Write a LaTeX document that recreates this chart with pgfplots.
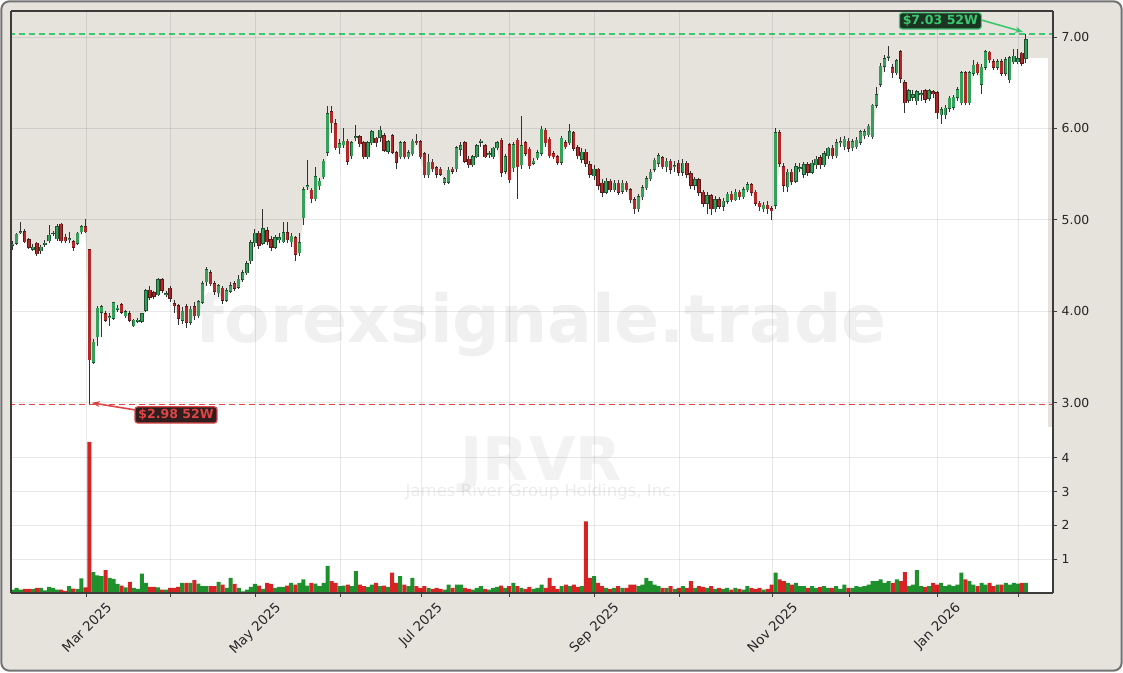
\documentclass[border=0pt]{standalone}
\usepackage{fontspec}
\setmainfont{DejaVu Sans}
\usepackage{graphicx}
\usepackage{pgfplots}
\pgfplotsset{compat=1.18}
\usepackage{pgfplotstable}
\usetikzlibrary{arrows.meta}

\definecolor{beige}{RGB}{230,227,221}
\definecolor{framegray}{RGB}{115,115,115}
\definecolor{spine}{RGB}{60,60,60}
\definecolor{wick}{RGB}{50,50,50}
\definecolor{upbody}{RGB}{52,160,90}
\definecolor{upedge}{RGB}{30,80,50}
\definecolor{dnbody}{RGB}{178,40,40}
\definecolor{dnedge}{RGB}{90,25,25}
\definecolor{volup}{RGB}{30,145,45}
\definecolor{voldn}{RGB}{215,35,35}
\definecolor{hiline}{RGB}{60,200,110}
\definecolor{loline}{RGB}{220,70,70}
\definecolor{hibox}{RGB}{28,52,36}
\definecolor{lobox}{RGB}{48,30,30}

% i = trading day index (0 = 3 Feb 2025), volume in millions
\pgfplotstableread{
i o h l c v
0 4.72 4.77 4.67 4.73 0.10
1 4.74 4.86 4.72 4.84 0.15
2 4.86 4.98 4.84 4.87 0.10
3 4.87 4.90 4.74 4.76 0.12
4 4.78 4.80 4.68 4.70 0.12
5 4.68 4.73 4.66 4.70 0.12
6 4.74 4.76 4.60 4.63 0.15
7 4.66 4.72 4.62 4.70 0.15
8 4.73 4.78 4.70 4.74 0.08
9 4.77 4.94 4.75 4.83 0.18
10 4.85 4.88 4.82 4.85 0.15
11 4.79 4.95 4.77 4.92 0.10
12 4.95 4.96 4.75 4.77 0.10
13 4.81 4.84 4.74 4.77 0.06
14 4.78 4.87 4.75 4.79 0.20
15 4.76 4.78 4.66 4.70 0.13
16 4.74 4.87 4.72 4.85 0.12
17 4.87 4.94 4.84 4.92 0.43
18 4.92 5.01 4.85 4.87 0.17
19 4.67 4.67 2.98 3.47 4.47
20 3.44 3.70 3.42 3.66 0.62
21 3.72 4.06 3.62 4.03 0.52
22 3.99 4.07 3.72 4.05 0.50
23 3.97 4.00 3.88 3.90 0.68
24 3.93 3.98 3.84 3.94 0.45
25 3.92 4.10 3.90 4.09 0.42
26 4.02 4.07 3.99 4.03 0.27
27 4.07 4.09 3.97 3.99 0.22
28 3.95 4.01 3.93 3.99 0.17
29 3.97 4.00 3.88 3.90 0.33
30 3.84 3.91 3.83 3.90 0.15
31 3.89 3.92 3.87 3.90 0.12
32 3.89 3.98 3.87 3.97 0.57
33 4.01 4.24 3.99 4.22 0.30
34 4.23 4.27 4.12 4.15 0.18
35 4.20 4.22 4.13 4.16 0.18
36 4.18 4.36 4.16 4.34 0.17
37 4.34 4.36 4.20 4.23 0.10
38 4.18 4.22 4.15 4.19 0.10
39 4.25 4.27 4.10 4.14 0.15
40 4.08 4.12 3.98 4.06 0.15
41 4.06 4.08 3.85 3.92 0.18
42 3.90 4.05 3.86 4.00 0.30
43 4.05 4.08 3.82 3.88 0.30
44 3.88 4.06 3.85 4.02 0.30
45 4.05 4.10 3.90 3.95 0.38
46 3.95 4.12 3.92 4.10 0.28
47 4.10 4.33 4.08 4.30 0.20
48 4.32 4.48 4.28 4.45 0.20
49 4.42 4.45 4.27 4.30 0.20
50 4.30 4.33 4.18 4.22 0.20
51 4.20 4.30 4.15 4.28 0.33
52 4.25 4.27 4.08 4.12 0.25
53 4.12 4.25 4.10 4.22 0.15
54 4.22 4.32 4.20 4.28 0.45
55 4.30 4.33 4.22 4.25 0.27
56 4.26 4.40 4.24 4.35 0.15
57 4.35 4.45 4.32 4.42 0.05
58 4.42 4.55 4.40 4.52 0.10
59 4.55 4.78 4.52 4.75 0.18
60 4.75 4.90 4.70 4.85 0.27
61 4.85 4.88 4.68 4.72 0.22
62 4.74 5.12 4.72 4.90 0.12
63 4.88 4.92 4.72 4.76 0.30
64 4.78 4.82 4.66 4.70 0.27
65 4.70 4.83 4.68 4.80 0.15
66 4.78 4.85 4.74 4.80 0.18
67 4.76 4.98 4.74 4.86 0.18
68 4.86 4.98 4.74 4.78 0.22
69 4.76 4.86 4.70 4.82 0.30
70 4.80 4.82 4.55 4.62 0.25
71 4.64 4.85 4.60 4.75 0.30
72 5.02 5.36 4.94 5.33 0.40
73 5.36 5.65 5.32 5.37 0.22
74 5.32 5.35 5.18 5.23 0.30
75 5.23 5.58 5.20 5.47 0.28
76 5.37 5.46 5.33 5.42 0.20
77 5.47 5.66 5.45 5.64 0.30
78 5.74 6.24 5.70 6.16 0.80
79 6.18 6.24 5.95 6.06 0.35
80 6.05 6.10 5.76 5.79 0.30
81 5.79 5.88 5.72 5.83 0.20
82 5.82 6.00 5.78 5.86 0.22
83 5.86 5.88 5.60 5.64 0.25
84 5.70 5.86 5.66 5.84 0.20
85 5.90 6.04 5.86 5.91 0.65
86 5.91 5.93 5.80 5.83 0.25
87 5.84 5.86 5.66 5.69 0.20
88 5.69 5.86 5.66 5.84 0.18
89 5.84 5.98 5.82 5.96 0.25
90 5.89 5.91 5.80 5.84 0.30
91 5.90 6.02 5.85 5.98 0.20
92 5.92 5.95 5.74 5.76 0.22
93 5.75 5.87 5.72 5.85 0.18
94 5.92 5.94 5.72 5.74 0.60
95 5.73 5.75 5.55 5.63 0.30
96 5.69 5.86 5.66 5.84 0.50
97 5.84 5.86 5.66 5.69 0.25
98 5.69 5.76 5.66 5.73 0.20
99 5.72 5.88 5.70 5.86 0.45
100 5.86 5.94 5.82 5.84 0.20
101 5.85 5.87 5.66 5.69 0.15
102 5.72 5.74 5.46 5.49 0.20
103 5.49 5.72 5.46 5.63 0.15
104 5.63 5.66 5.52 5.56 0.12
105 5.57 5.59 5.46 5.50 0.15
106 5.55 5.58 5.48 5.50 0.12
107 5.41 5.47 5.38 5.45 0.10
108 5.41 5.58 5.39 5.54 0.25
109 5.55 5.58 5.50 5.53 0.15
110 5.56 5.81 5.52 5.79 0.25
111 5.77 5.85 5.70 5.81 0.25
112 5.84 5.86 5.62 5.64 0.15
113 5.66 5.70 5.57 5.60 0.12
114 5.60 5.71 5.58 5.69 0.10
115 5.69 5.83 5.67 5.81 0.15
116 5.85 5.88 5.80 5.86 0.20
117 5.81 5.83 5.67 5.69 0.12
118 5.71 5.75 5.68 5.72 0.10
119 5.69 5.80 5.66 5.78 0.15
120 5.79 5.86 5.76 5.84 0.18
121 5.87 5.89 5.47 5.52 0.22
122 5.53 5.72 5.50 5.69 0.15
123 5.82 5.84 5.40 5.44 0.20
124 5.57 5.85 5.52 5.82 0.30
125 5.87 5.89 5.23 5.58 0.20
126 5.60 6.13 5.56 5.81 0.15
127 5.84 5.86 5.70 5.73 0.12
128 5.77 5.80 5.56 5.59 0.18
129 5.62 5.67 5.60 5.64 0.12
130 5.68 5.76 5.65 5.73 0.15
131 5.73 6.02 5.70 5.99 0.25
132 5.98 6.00 5.80 5.84 0.15
133 5.88 5.90 5.67 5.70 0.45
134 5.72 5.75 5.66 5.69 0.20
135 5.69 5.71 5.60 5.63 0.12
136 5.63 5.92 5.60 5.89 0.20
137 5.84 5.87 5.77 5.80 0.25
138 5.84 6.05 5.82 5.96 0.20
139 5.95 5.97 5.75 5.78 0.25
140 5.79 5.82 5.66 5.70 0.18
141 5.66 5.78 5.62 5.74 0.20
142 5.74 5.77 5.58 5.62 2.12
143 5.60 5.64 5.46 5.50 0.45
144 5.48 5.60 5.44 5.55 0.50
145 5.55 5.57 5.32 5.38 0.30
146 5.40 5.45 5.25 5.30 0.20
147 5.30 5.46 5.28 5.42 0.15
148 5.42 5.45 5.30 5.33 0.12
149 5.33 5.44 5.30 5.40 0.15
150 5.40 5.43 5.27 5.30 0.20
151 5.31 5.43 5.28 5.40 0.15
152 5.40 5.42 5.30 5.33 0.15
153 5.33 5.35 5.18 5.22 0.25
154 5.22 5.25 5.06 5.12 0.25
155 5.12 5.28 5.08 5.25 0.20
156 5.25 5.38 5.22 5.35 0.25
157 5.35 5.48 5.32 5.45 0.45
158 5.45 5.55 5.42 5.52 0.35
159 5.55 5.68 5.52 5.65 0.25
160 5.62 5.73 5.58 5.70 0.20
161 5.68 5.70 5.55 5.58 0.15
162 5.58 5.67 5.52 5.64 0.15
163 5.64 5.66 5.50 5.55 0.20
164 5.58 5.64 5.52 5.59 0.12
165 5.62 5.65 5.48 5.52 0.15
166 5.52 5.66 5.48 5.62 0.20
167 5.62 5.64 5.46 5.50 0.15
168 5.50 5.53 5.34 5.38 0.35
169 5.38 5.47 5.32 5.44 0.15
170 5.44 5.46 5.26 5.30 0.20
171 5.30 5.33 5.14 5.18 0.18
172 5.18 5.30 5.06 5.26 0.15
173 5.26 5.28 5.05 5.12 0.20
174 5.12 5.26 5.08 5.22 0.12
175 5.22 5.25 5.12 5.15 0.15
176 5.15 5.24 5.10 5.20 0.12
177 5.20 5.30 5.17 5.28 0.15
178 5.28 5.31 5.19 5.22 0.10
179 5.22 5.34 5.20 5.30 0.15
180 5.30 5.33 5.22 5.25 0.12
181 5.25 5.36 5.23 5.33 0.10
182 5.33 5.41 5.30 5.38 0.20
183 5.38 5.40 5.26 5.30 0.15
184 5.30 5.32 5.15 5.18 0.12
185 5.18 5.21 5.10 5.14 0.15
186 5.12 5.19 5.08 5.16 0.10
187 5.16 5.20 5.06 5.12 0.12
188 5.12 5.15 5.00 5.10 0.25
189 5.16 6.00 5.12 5.95 0.60
190 5.95 5.98 5.58 5.62 0.40
191 5.58 5.62 5.30 5.38 0.35
192 5.36 5.55 5.30 5.52 0.30
193 5.52 5.56 5.38 5.42 0.25
194 5.42 5.62 5.40 5.58 0.30
195 5.56 5.62 5.52 5.57 0.20
196 5.50 5.63 5.46 5.60 0.20
197 5.60 5.63 5.48 5.52 0.15
198 5.52 5.65 5.50 5.62 0.20
199 5.60 5.70 5.56 5.66 0.15
200 5.68 5.71 5.56 5.60 0.18
201 5.60 5.75 5.58 5.72 0.20
202 5.70 5.80 5.66 5.78 0.15
203 5.78 5.82 5.66 5.70 0.15
204 5.70 5.88 5.68 5.84 0.20
205 5.84 5.90 5.80 5.85 0.12
206 5.80 5.92 5.76 5.88 0.25
207 5.86 5.89 5.74 5.78 0.15
208 5.79 5.88 5.75 5.85 0.15
209 5.80 5.90 5.77 5.87 0.20
210 5.85 5.98 5.82 5.96 0.18
211 5.92 5.99 5.88 5.96 0.20
212 5.93 6.05 5.90 6.02 0.25
213 5.91 6.27 5.88 6.25 0.35
214 6.25 6.45 6.22 6.37 0.35
215 6.48 6.72 6.45 6.68 0.40
216 6.68 6.80 6.62 6.76 0.30
217 6.78 6.90 6.74 6.79 0.35
218 6.66 6.70 6.55 6.61 0.30
219 6.61 6.76 6.58 6.74 0.40
220 6.84 6.86 6.50 6.55 0.35
221 6.50 6.53 6.17 6.28 0.62
222 6.31 6.43 6.28 6.41 0.20
223 6.34 6.42 6.30 6.37 0.25
224 6.30 6.42 6.26 6.40 0.68
225 6.37 6.42 6.30 6.38 0.20
226 6.41 6.43 6.28 6.32 0.18
227 6.33 6.43 6.30 6.41 0.20
228 6.40 6.42 6.33 6.38 0.30
229 6.39 6.41 6.10 6.17 0.25
230 6.15 6.23 6.05 6.20 0.30
231 6.15 6.25 6.10 6.22 0.20
232 6.22 6.35 6.18 6.33 0.25
233 6.23 6.37 6.20 6.34 0.20
234 6.34 6.45 6.30 6.42 0.25
235 6.28 6.63 6.25 6.61 0.60
236 6.61 6.63 6.25 6.28 0.40
237 6.28 6.63 6.26 6.61 0.35
238 6.60 6.75 6.57 6.69 0.25
239 6.70 6.73 6.58 6.61 0.20
240 6.48 6.70 6.38 6.67 0.30
241 6.67 6.86 6.64 6.84 0.25
242 6.83 6.85 6.72 6.75 0.30
243 6.73 6.76 6.64 6.67 0.20
244 6.67 6.76 6.64 6.73 0.25
245 6.73 6.76 6.57 6.60 0.25
246 6.60 6.78 6.57 6.75 0.30
247 6.53 6.79 6.50 6.77 0.25
248 6.73 6.87 6.70 6.79 0.30
249 6.73 6.87 6.70 6.76 0.28
250 6.82 6.84 6.68 6.71 0.30
251 6.77 7.03 6.72 6.97 0.30
}\ohlc

\newcommand{\tickfont}{\fontsize{9.3}{11}\selectfont}
% candle body as a thick error bar; rows of the other colour are sent far below the axis
\pgfplotsset{
  body/.style n args={2}{draw=none, mark=none, forget plot,
    error bars/.cd, y dir=plus, y explicit, error mark=none,
    error bar style={draw=#1, solid, line width=#2}},
}

\begin{document}
\begin{tikzpicture}
\useasboundingbox (0,0) rectangle (842.25pt,504pt);
\fill[beige, draw=framegray, line width=1.5pt, rounded corners=6pt] (1pt,1pt) rectangle (841.25pt,503pt);

% ---------- price panel ----------
\begin{axis}[
  at={(8.25pt,495.75pt)}, anchor=north west,
  scale only axis, width=781.5pt, height=312pt,
  xmin=-0.42, xmax=257.7, ymin=2.732, ymax=7.284,
  axis background/.style={fill=beige},
  axis on top,
  separate axis lines,
  x axis line style={draw=none},
  y axis line style={draw=spine, line width=0.8pt},
  xtick={18.3,39.15,60.15,81.15,101.15,123.15,144.15,165.15,188.15,207.15,229.15,249.15},
  xticklabels={}, xtick style={draw=none},
  ytick={3,4,5,6,7}, yticklabels={3.00,4.00,5.00,6.00,7.00},
  ytick pos=right, yticklabel pos=right,
  tick align=outside, major tick length=3pt,
  ytick style={draw=spine, line width=0.6pt},
  grid=major, grid style={black, opacity=0.09, line width=0.6pt},
  tick label style={font=\tickfont, text=black!85},
]
% white area under the price
\addplot[draw=none, fill=white, forget plot]
  table[x=i, y expr={min(\thisrow{o},\thisrow{c})}] {\ohlc} \closedcycle;
\addplot[draw=none, fill=white, forget plot]
  coordinates {(-0.6,4.72) (0,4.72)} \closedcycle;
\addplot[draw=none, fill=white, forget plot]
  coordinates {(251,6.77) (256.5,6.77)} \closedcycle;

\node[font=\bfseries\fontsize{49.7}{50}\selectfont, text=black, text opacity=0.06]
  at (axis cs:130.9,3.85) {forexsignale.trade};

% 52 week lines
\addplot[hiline, dash pattern=on 5pt off 2.5pt, line width=1.2pt, forget plot]
  coordinates {(-1,7.03) (260,7.03)};
\addplot[loline, dash pattern=on 5pt off 2.5pt, line width=1.2pt, forget plot]
  coordinates {(-1,2.98) (260,2.98)};

% wicks
\addplot[body={wick}{0.75pt}]
  table[x=i, y=l, y error expr=\thisrow{h}-\thisrow{l}] {\ohlc};
% up bodies (close >= open)
\addplot[body={upedge}{2.5pt}]
  table[x=i, y expr={\thisrow{c}<\thisrow{o} ? -10 : \thisrow{o}-0.006},
        y error expr=abs(\thisrow{c}-\thisrow{o})+0.012] {\ohlc};
\addplot[body={upbody}{1.9pt}]
  table[x=i, y expr={\thisrow{c}<\thisrow{o} ? -10 : \thisrow{o}},
        y error expr=abs(\thisrow{c}-\thisrow{o})] {\ohlc};
% down bodies (close < open)
\addplot[body={dnedge}{2.5pt}]
  table[x=i, y expr={\thisrow{c}<\thisrow{o} ? \thisrow{c}-0.006 : -10},
        y error expr=abs(\thisrow{o}-\thisrow{c})+0.012] {\ohlc};
\addplot[body={dnbody}{1.9pt}]
  table[x=i, y expr={\thisrow{c}<\thisrow{o} ? \thisrow{c} : -10},
        y error expr=abs(\thisrow{o}-\thisrow{c})] {\ohlc};

% labels for 52 week high / low
\draw[hiline, line width=1.2pt, -{Stealth[length=6pt,width=4.5pt]}]
  (axis cs:239.9,7.186) -- (axis cs:250.3,7.055);
\node[fill=hibox, draw=hiline, line width=0.9pt, rounded corners=2pt,
  inner xsep=2.5pt, inner ysep=1.8pt, text=hiline,
  font=\bfseries\fontsize{9.4}{11}\selectfont]
  at (axis cs:229.8,7.175) {\$7.03 52W};
\draw[loline, line width=1.2pt, -{Stealth[length=6pt,width=4.5pt]}]
  (axis cs:30.3,2.919) -- (axis cs:19.6,2.996);
\node[fill=lobox, draw=loline, line width=0.9pt, rounded corners=2pt,
  inner xsep=2.5pt, inner ysep=1.8pt, text=loline,
  font=\bfseries\fontsize{9.4}{11}\selectfont]
  at (axis cs:40.45,2.864) {\$2.98 52W};

\draw[spine, line width=0.8pt] (rel axis cs:0,1) -- (rel axis cs:1,1);
\end{axis}

% ---------- volume panel ----------
\begin{axis}[
  at={(8.25pt,183.75pt)}, anchor=north west,
  scale only axis, width=781.5pt, height=124.5pt,
  xmin=-0.42, xmax=257.7, ymin=0, ymax=4.91,
  axis background/.style={fill=white},
  axis on top,
  separate axis lines,
  x axis line style={draw=none},
  y axis line style={draw=spine, line width=0.8pt},
  xtick={18.3,39.15,60.15,81.15,101.15,123.15,144.15,165.15,188.15,207.15,229.15,249.15},
  xticklabels={\rotatebox{45}{Mar 2025},{},\rotatebox{45}{May 2025},{},\rotatebox{45}{Jul 2025},{},\rotatebox{45}{Sep 2025},{},\rotatebox{45}{Nov 2025},{},\rotatebox{45}{Jan 2026},{}},
  xtick pos=bottom,
  xticklabel style={anchor=north, inner sep=0pt, yshift=-3pt, font=\fontsize{10}{12}\selectfont},
  ytick={1,2,3,4}, yticklabels={1,2,3,4},
  ytick pos=right, yticklabel pos=right,
  tick align=outside, major tick length=3pt,
  tick style={draw=spine, line width=0.6pt},
  grid=major, grid style={black, opacity=0.09, line width=0.6pt},
  yticklabel style={font=\tickfont},
  tick label style={text=black!85},
]
\node[font=\bfseries\fontsize{45}{46}\selectfont, text=black, text opacity=0.05]
  at (axis cs:130.9,3.8) {JRVR};
\node[font=\fontsize{12.4}{13}\selectfont, text=black, text opacity=0.07]
  at (axis cs:130.9,3.0) {James River Group Holdings, Inc.};

\addplot[ybar, bar width=3pt, bar shift=0pt, fill=volup, draw=none, forget plot]
  table[x=i, y expr={\thisrow{c}<\thisrow{o} ? 0 : \thisrow{v}}] {\ohlc};
\addplot[ybar, bar width=3pt, bar shift=0pt, fill=voldn, draw=none, forget plot]
  table[x=i, y expr={\thisrow{c}<\thisrow{o} ? \thisrow{v} : 0}] {\ohlc};

\draw[spine, line width=0.8pt] (rel axis cs:0,0) -- (rel axis cs:1,0);
\end{axis}
\end{tikzpicture}
\end{document}
